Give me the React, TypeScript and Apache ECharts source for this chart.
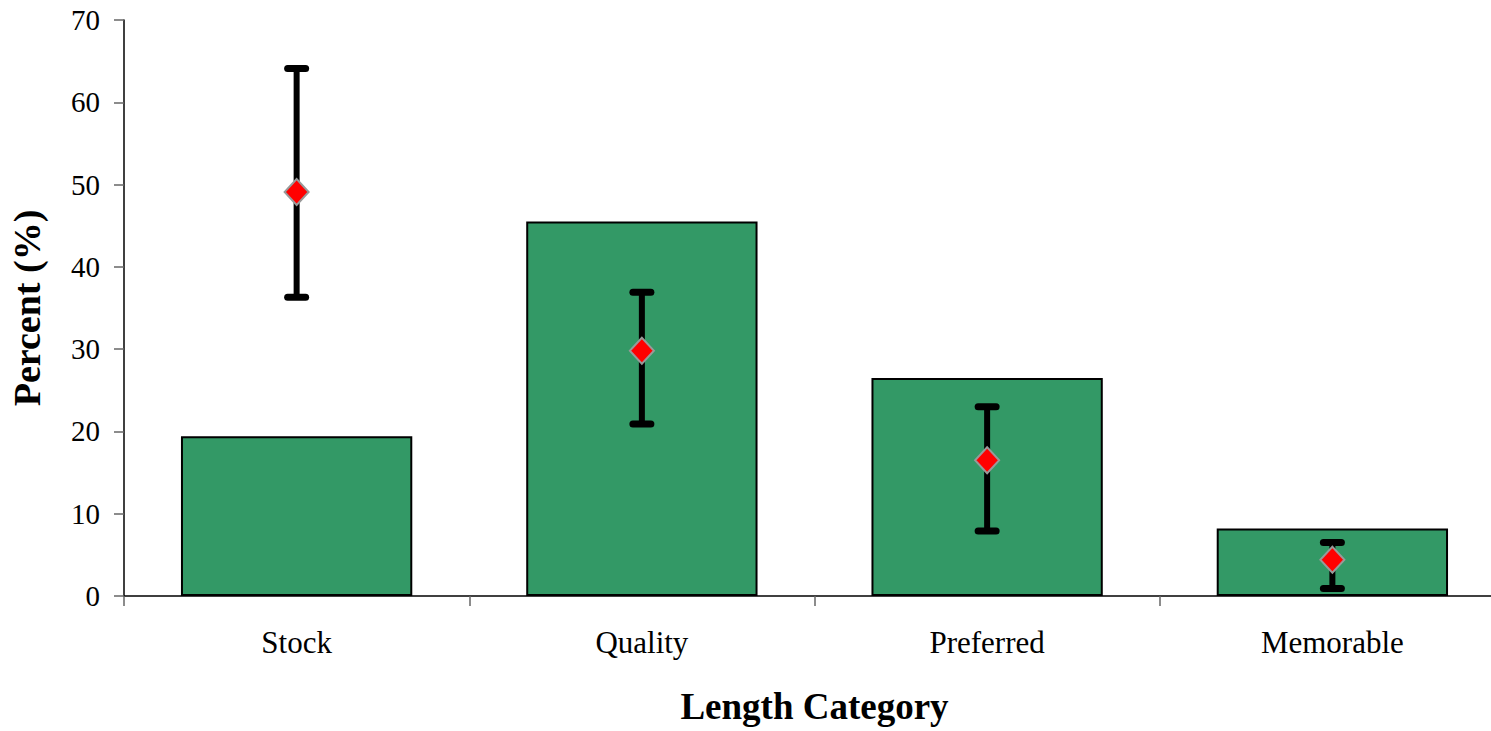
import React, { useEffect, useRef } from "react";
import * as echarts from "echarts";

const categories = ["Stock", "Quality", "Preferred", "Memorable"];
const barValues = [19.4, 45.5, 26.5, 8.2];
const pointValues = [49.1, 29.8, 16.5, 4.4];
const errLow = [36.3, 20.9, 7.9, 0.9];
const errHigh = [64.1, 36.9, 23.0, 6.5];
const yTicks = [0, 10, 20, 30, 40, 50, 60, 70];

export default function App() {
  const ref = useRef<HTMLDivElement>(null);
  useEffect(() => {
    if (!ref.current) return;
    const chart = echarts.init(ref.current, null, { renderer: "svg" });
    const font = "'Liberation Serif', 'Times New Roman', serif";
    chart.setOption({
      animation: false,
      textStyle: { fontFamily: font },
      grid: { left: 124, right: -14, top: 20, bottom: 135, outerBoundsMode: "none", containLabel: false },
      xAxis: {
        type: "category",
        data: categories,
        axisLine: { lineStyle: { color: "#000", width: 1.5 } },
        axisTick: { show: true, length: 10, lineStyle: { color: "#666", width: 1.5 } },
        axisLabel: { fontSize: 31, color: "#000", margin: 31, fontFamily: font },
        name: "Length Category",
        nameLocation: "middle",
        nameGap: 92,
        nameTextStyle: { fontSize: 37, fontWeight: "bold", color: "#000", fontFamily: font },
      },
      yAxis: {
        type: "value",
        min: yTicks[0],
        max: yTicks[yTicks.length - 1],
        interval: 10,
        splitLine: { show: false },
        axisLine: { show: true, lineStyle: { color: "#000", width: 1.5 } },
        axisTick: { show: true, length: 10, lineStyle: { color: "#666", width: 1.5 } },
        axisLabel: { fontSize: 29, color: "#000", margin: 24, fontFamily: font },
        name: "Percent (%)",
        nameLocation: "middle",
        nameGap: 78,
        nameTextStyle: { fontSize: 38, fontWeight: "bold", color: "#000", fontFamily: font },
      },
      series: [
        {
          type: "bar",
          data: barValues,
          barWidth: "67%",
          itemStyle: { color: "#339966", borderColor: "#000", borderWidth: 2 },
        },
        {
          type: "custom",
          data: categories.map((_, i) => [i, errLow[i], errHigh[i]]),
          renderItem: (params: any, api: any) => {
            const x = api.value(0);
            const lo = api.coord([x, api.value(1)]);
            const hi = api.coord([x, api.value(2)]);
            const cw = 12;
            const style = { stroke: "#000", lineWidth: 7, lineCap: "round" };
            return {
              type: "group",
              children: [
                { type: "line", shape: { x1: lo[0], y1: lo[1], x2: hi[0], y2: hi[1] }, style: { stroke: "#000", lineWidth: 6 } },
                { type: "line", shape: { x1: lo[0] - cw + 3, y1: lo[1], x2: lo[0] + cw - 3, y2: lo[1] }, style },
                { type: "line", shape: { x1: hi[0] - cw + 3, y1: hi[1], x2: hi[0] + cw - 3, y2: hi[1] }, style },
              ],
            };
          },
          z: 3,
        },
        {
          type: "scatter",
          data: pointValues,
          symbol: "diamond",
          symbolSize: [24, 26],
          itemStyle: { color: "#ff0000", borderColor: "#999", borderWidth: 2, opacity: 1 },
          z: 4,
        },
      ],
    });
    return () => chart.dispose();
  }, []);
  return (
    <div
      ref={ref}
      style={{ position: "fixed", left: 0, top: 0, width: 1491, height: 731, background: "#fff" }}
    />
  );
}
